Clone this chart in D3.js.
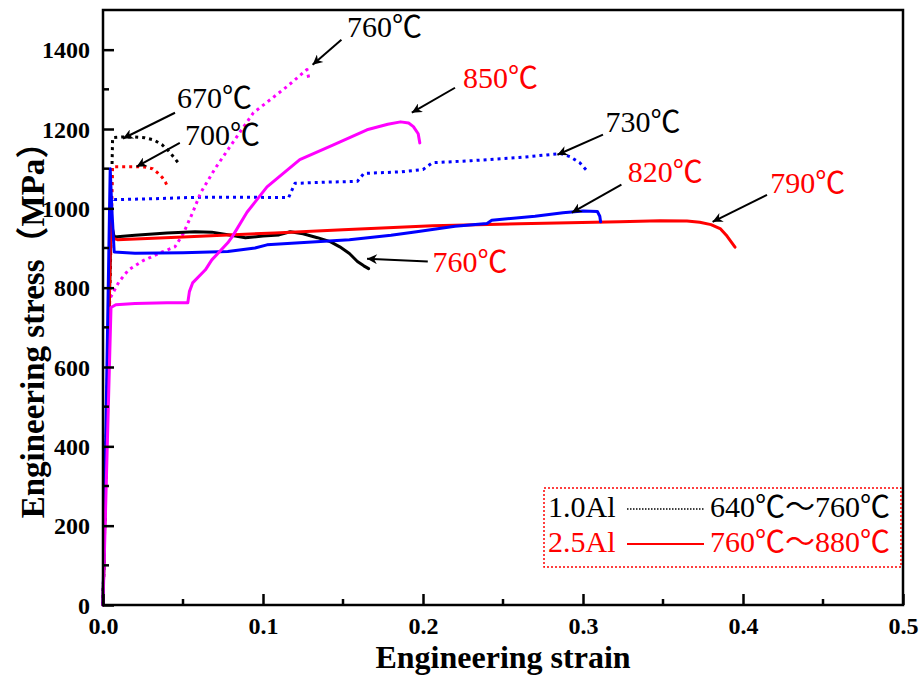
<!DOCTYPE html>
<html>
<head>
<meta charset="utf-8">
<script src="https://cdn.jsdelivr.net/npm/d3@7"></script>
<style>
    body { margin: 0; background: #fff; }
    svg { display: block; }
</style>
</head>
<body>
<svg id="chart" width="920" height="683"></svg>
<script>
// strain / stress pairs
const black670 = [[0,0],[0.006,1178],[0.012,1180],[0.02,1180],[0.026,1178],[0.032,1172],[0.037,1160],[0.041,1145],[0.045,1125],[0.048,1110]];
const red700 = [[0,0],[0.006,1105],[0.012,1105],[0.02,1105],[0.026,1104],[0.031,1100],[0.034,1090],[0.037,1078],[0.039,1066],[0.040,1058]];
const blue730 = [[0,0],[0.005,1030],[0.007,1022],[0.03,1024],[0.06,1028],[0.09,1028],[0.116,1027],[0.118,1045],[0.12,1063],[0.14,1066],[0.159,1068],[0.163,1088],[0.186,1092],[0.2,1098],[0.206,1115],[0.23,1120],[0.26,1128],[0.286,1138],[0.292,1130],[0.298,1115],[0.302,1097]];
const magenta760 = [[0,0],[0.004,770],[0.01,815],[0.016,845],[0.025,868],[0.037,890],[0.045,903],[0.05,935],[0.056,989],[0.061,1039],[0.07,1100],[0.081,1165],[0.094,1241],[0.102,1266],[0.115,1307],[0.1275,1350],[0.129,1320]];

const black760 = [[0,0],[0.005,965],[0.007,928],[0.02,932],[0.04,938],[0.0575,941],[0.068,940],[0.08,932],[0.089,926],[0.1,930],[0.11,933],[0.117,941],[0.125,936],[0.134,926],[0.142,916],[0.148,903],[0.154,886],[0.159,866],[0.163,855],[0.166,848]];
const red790 = [[0,0],[0.005,978],[0.006,925],[0.009,921],[0.05,928],[0.1075,938],[0.15,946],[0.206,956],[0.26,961],[0.323,966],[0.348,969],[0.365,968],[0.373,965],[0.38,959],[0.386,948],[0.39,930],[0.395,902]];
const blue820 = [[0,0],[0.0045,1100],[0.0055,1000],[0.007,890],[0.02,887],[0.05,888],[0.078,891],[0.095,900],[0.1025,908],[0.123,913],[0.154,921],[0.18,932],[0.196,941],[0.22,955],[0.24,962],[0.243,970],[0.27,980],[0.2875,989],[0.3,993],[0.309,992],[0.3105,980],[0.311,966]];
const magenta850 = [[0,0],[0.005,750],[0.008,757],[0.02,760],[0.04,762],[0.053,762],[0.054,790],[0.056,812],[0.064,845],[0.068,870],[0.078,913],[0.081,930],[0.09,990],[0.1025,1054],[0.123,1123],[0.144,1160],[0.165,1198],[0.178,1212],[0.186,1218],[0.191,1215],[0.194,1206],[0.197,1188],[0.198,1165]];

const seriesData = [black670, red700, blue730, magenta760, black760, red790, blue820, magenta850];
const seriesColors = ['#000000', '#ff0000', '#0000ff', '#ff00ff', '#000000', '#ff0000', '#0000ff', '#ff00ff'];
const seriesDotted = [true, true, true, true, false, false, false, false];

// annotation: label, colour, text anchor point, arrow tail, arrow head (data units)
const noteLabels = ['670℃', '700℃', '760℃', '850℃', '730℃', '820℃', '790℃', '760℃'];
const noteColors = ['#000', '#000', '#000', '#ff0000', '#000', '#ff0000', '#ff0000', '#ff0000'];
const noteText = [[0.0462,1254],[0.0512,1160],[0.1525,1433],[0.225,1304],[0.314,1193],[0.328,1067],[0.417,1039],[0.206,840]];
const noteTail = [[0.045,1241],[0.048,1165],[0.149,1425],[0.22,1304],[0.3125,1186],[0.324,1060],[0.415,1034],[0.203,866]];
const noteHead = [[0.0125,1176],[0.021,1105],[0.131,1362],[0.193,1241],[0.284,1135],[0.293,989],[0.381,966],[0.165,873]];

const xTicks = [0, 0.1, 0.2, 0.3, 0.4, 0.5];
const yTicks = [0, 200, 400, 600, 800, 1000, 1200, 1400];

const legendAlloys = ['1.0Al', '2.5Al'];
const legendRanges = ['640℃～760℃', '760℃～880℃'];
const legendColors = ['#000000', '#ff0000'];
const legendDotted = [true, false];

const SERIF = "'Liberation Serif', 'Noto Sans CJK SC', serif";
const margin = {left: 103, top: 10, right: 16, bottom: 78};
const width = 920, height = 683;

const svg = d3.select('#chart');
const x = d3.scaleLinear().domain([0, 0.5]).range([margin.left, width - margin.right - 1]);
const y = d3.scaleLinear().domain([0, 1500]).range([height - margin.bottom, margin.top]);

// arrow marker
svg.append('defs').append('marker')
    .attr('id', 'arrowhead')
    .attr('viewBox', '0 0 10 10')
    .attr('refX', 10).attr('refY', 5)
    .attr('markerWidth', 16).attr('markerHeight', 10)
    .attr('markerUnits', 'userSpaceOnUse')
    .attr('orient', 'auto')
    .append('path')
    .attr('d', 'M0,0 L10,5 L0,10 L3,5 Z')
    .style('fill', '#000');

// Curves
const lineRaw = d3.line().x(d => x(d[0])).y(d => y(d[1]));

svg.append('g').attr('class', 'curves')
    .selectAll('path')
    .data(seriesData)
    .join('path')
    .attr('d', d => lineRaw(d))
    .style('fill', 'none')
    .style('stroke', (d, i) => seriesColors[i])
    .style('stroke-width', 3)
    .style('stroke-linejoin', 'round')
    .style('stroke-linecap', (d, i) => seriesDotted[i] ? 'butt' : 'round')
    .style('stroke-dasharray', (d, i) => seriesDotted[i] ? '3,4' : null);

// Axes (ticks pointing inward)
const xAxis = d3.axisBottom(x).tickValues(xTicks).tickFormat(d3.format('.1f')).tickSizeInner(-11).tickSizeOuter(0).tickPadding(12);
const yAxis = d3.axisLeft(y).tickValues(yTicks).tickFormat(d3.format('d')).tickSizeInner(-11).tickSizeOuter(0).tickPadding(13);

const gx = svg.append('g').attr('transform', `translate(0,${y(0)})`).call(xAxis);
const gy = svg.append('g').attr('transform', `translate(${x(0)},0)`).call(yAxis);
[gx, gy].forEach(g => {
    g.select('.domain').remove();
    g.attr('font-family', null).attr('font-size', null);
    g.selectAll('.tick line').style('stroke', '#000').style('stroke-width', 2.5);
    g.selectAll('.tick text')
        .style('fill', '#000')
        .style('font-family', "'Liberation Serif', serif")
        .style('font-weight', 'bold')
        .style('font-size', '24px');
});
gy.selectAll('.tick text').attr('dy', '0.34em');

// minor ticks
const xMinor = d3.range(0.05, 0.5, 0.1);
const yMinor = d3.range(100, 1500, 200);
svg.append('g').selectAll('line').data(xMinor).join('line')
    .attr('x1', d => x(d)).attr('x2', d => x(d))
    .attr('y1', y(0)).attr('y2', y(0) - 6)
    .style('stroke', '#000').style('stroke-width', 2.5);
svg.append('g').selectAll('line').data(yMinor).join('line')
    .attr('x1', x(0)).attr('x2', x(0) + 6)
    .attr('y1', d => y(d)).attr('y2', d => y(d))
    .style('stroke', '#000').style('stroke-width', 2.5);

// frame
svg.append('rect')
    .attr('x', x(0)).attr('y', y(1500))
    .attr('width', x(0.5) - x(0)).attr('height', y(0) - y(1500))
    .style('fill', 'none').style('stroke', '#000').style('stroke-width', 2.5);

// axis titles
svg.append('text')
    .attr('x', (x(0) + x(0.5)) / 2).attr('y', 668)
    .attr('text-anchor', 'middle')
    .style('font-family', SERIF).style('font-weight', 'bold').style('font-size', '32px')
    .text('Engineering strain');
svg.append('text')
    .attr('transform', 'translate(44,322) rotate(-90)')
    .attr('text-anchor', 'middle')
    .style('font-family', SERIF).style('font-weight', 'bold').style('font-size', '33px')
    .text('Engineering stress（MPa）');

// annotations
const notes = svg.append('g').attr('class', 'notes');
notes.selectAll('line')
    .data(noteLabels)
    .join('line')
    .attr('x1', (d, i) => x(noteTail[i][0])).attr('y1', (d, i) => y(noteTail[i][1]))
    .attr('x2', (d, i) => x(noteHead[i][0])).attr('y2', (d, i) => y(noteHead[i][1]))
    .style('stroke', '#000').style('stroke-width', 2)
    .attr('marker-end', 'url(#arrowhead)');
notes.selectAll('text')
    .data(noteLabels)
    .join('text')
    .attr('x', (d, i) => x(noteText[i][0])).attr('y', (d, i) => y(noteText[i][1]))
    .style('font-family', SERIF).style('font-size', '30px')
    .style('fill', (d, i) => noteColors[i])
    .text(d => d);

// legend
const legend = svg.append('g').attr('transform', 'translate(544,488)');
legend.append('rect')
    .attr('width', 357).attr('height', 79)
    .style('fill', '#fff').style('stroke', '#ff0000').style('stroke-width', 1.5)
    .style('stroke-dasharray', '2,2');
const rows = legend.selectAll('g.row')
    .data(legendAlloys)
    .join('g').attr('class', 'row')
    .attr('transform', (d, i) => `translate(0,${29 + i * 35})`);
rows.append('text')
    .attr('x', 4)
    .style('font-family', SERIF).style('font-size', '30px')
    .style('fill', (d, i) => legendColors[i])
    .text(d => d);
rows.append('line')
    .attr('x1', 83).attr('x2', 160).attr('y1', -8).attr('y2', -8)
    .style('stroke', (d, i) => legendColors[i])
    .style('stroke-width', (d, i) => legendDotted[i] ? 1.5 : 2)
    .style('stroke-dasharray', (d, i) => legendDotted[i] ? '1.5,1.5' : null);
rows.append('text')
    .attr('x', 166)
    .style('font-family', SERIF).style('font-size', '30px')
    .style('fill', (d, i) => legendColors[i])
    .text((d, i) => legendRanges[i]);
</script>
</body>
</html>
